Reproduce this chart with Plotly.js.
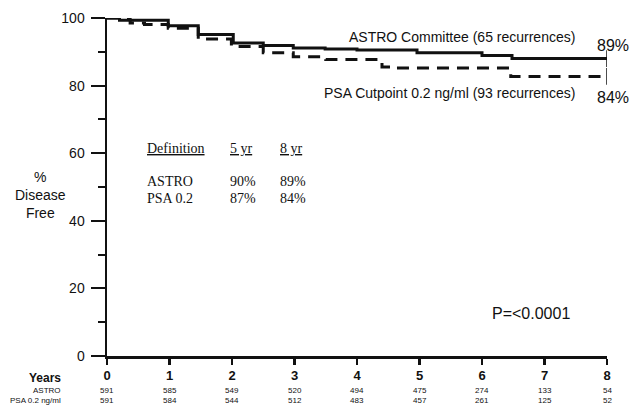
<!DOCTYPE html>
<html>
<head>
<meta charset="utf-8">
<script src="https://cdn.plot.ly/plotly-3.0.1.min.js"></script>
<style>html,body{margin:0;padding:0;background:#fff;}#chart{width:637px;height:406px;}</style>
</head>
<body>
<div id="chart"></div>
<script>
// Kaplan-Meier step data (years, % disease free)
const astroTimes = [0, 0.2, 0.98, 1.46, 2.02, 2.5, 2.98, 3.49, 4.0, 4.96, 6.0, 6.48, 8.0];
const astroSurv  = [100, 99.3, 97.7, 95.1, 92.6, 91.9, 91.1, 90.8, 90.5, 89.7, 88.9, 88.0, 88.0];
const psaTimes = [0, 0.37, 0.6, 0.98, 1.46, 1.99, 2.5, 2.98, 3.5, 4.4, 4.6, 6.46, 8.0];
const psaSurv  = [100, 98.5, 98.1, 97.0, 93.8, 91.6, 89.7, 88.5, 87.7, 85.5, 85.2, 82.7, 82.7];

// Numbers at risk
const yearTicks = [0, 1, 2, 3, 4, 5, 6, 7, 8];
const atRiskAstro = [591, 585, 549, 520, 494, 475, 274, 133, 54];
const atRiskPsa   = [591, 584, 544, 512, 483, 457, 261, 125, 52];

// Y axis ticks
const yMajor = [0, 20, 40, 60, 80, 100];
const yMinor = [10, 30, 50, 70, 90];

// Inset table
const tableHeader = ["Definition", "5 yr", "8 yr"];
const tableRows = ["ASTRO", "PSA 0.2"];
const rate5yr = ["90%", "87%"];
const rate8yr = ["89%", "84%"];

// Curve labels
const curveLabels = ["ASTRO Committee (65 recurrences)", "PSA Cutpoint 0.2 ng/ml (93 recurrences)"];
const endLabels = ["89%", "84%"];
const pValue = "P=<0.0001";

const sans = "Liberation Sans, Arial, sans-serif";
const serif = "Liberation Serif, Times New Roman, serif";
const ink = "#111111";

const traces = [
  {x: astroTimes, y: astroSurv, type: 'scatter', mode: 'lines', line: {shape: 'hv', color: ink, width: 3}, hoverinfo: 'skip'},
  {x: psaTimes, y: psaSurv, type: 'scatter', mode: 'lines', line: {shape: 'hv', color: ink, width: 3, dash: '12px,8px'}, hoverinfo: 'skip'},
  {x: [astroTimes[astroTimes.length-1], psaTimes[psaTimes.length-1]],
   y: [astroSurv[astroSurv.length-1], psaSurv[psaSurv.length-1]],
   type: 'scatter', mode: 'markers',
   marker: {symbol: 'line-ns-open', size: 12, color: ink, line: {color: ink, width: 1.5}}, hoverinfo: 'skip'},
  // invisible trace carrying the minor-tick overlay axis
  {x: [0], y: [0], xaxis: 'x', yaxis: 'y2', type: 'scatter', mode: 'markers', marker: {opacity: 0}, hoverinfo: 'skip'}
];

const ann = [];
yearTicks.forEach((t, i) => {
  ann.push({x: t, y: -0.101, xref: 'x', yref: 'paper', text: String(atRiskAstro[i]), showarrow: false, xanchor: 'center', yanchor: 'middle', font: {family: sans, size: 8, color: ink}});
  ann.push({x: t, y: -0.133, xref: 'x', yref: 'paper', text: String(atRiskPsa[i]), showarrow: false, xanchor: 'center', yanchor: 'middle', font: {family: sans, size: 8, color: ink}});
});
ann.push({x: -0.088, y: -0.065, xref: 'paper', yref: 'paper', text: '<b>Years</b>', showarrow: false, xanchor: 'right', yanchor: 'middle', font: {family: sans, size: 12, color: ink}});
ann.push({x: -0.088, y: -0.101, xref: 'paper', yref: 'paper', text: 'ASTRO', showarrow: false, xanchor: 'right', yanchor: 'middle', font: {family: sans, size: 8, color: ink}});
ann.push({x: -0.088, y: -0.133, xref: 'paper', yref: 'paper', text: 'PSA 0.2 ng/ml', showarrow: false, xanchor: 'right', yanchor: 'middle', font: {family: sans, size: 8, color: ink}});
ann.push({x: -0.134, y: 0.476, xref: 'paper', yref: 'paper', text: '%<br>Disease<br>Free', showarrow: false, xanchor: 'center', yanchor: 'middle', align: 'center', font: {family: sans, size: 14, color: ink}});
ann.push({x: 3.84, y: 94.4, text: curveLabels[0], showarrow: false, xanchor: 'left', yanchor: 'middle', font: {family: sans, size: 14, color: ink}});
ann.push({x: 3.44, y: 77.9, text: curveLabels[1], showarrow: false, xanchor: 'left', yanchor: 'middle', font: {family: sans, size: 14, color: ink}});
ann.push({x: 7.81, y: 92.0, text: endLabels[0], showarrow: false, xanchor: 'left', yanchor: 'middle', font: {family: sans, size: 16, color: ink}});
ann.push({x: 7.81, y: 76.4, text: endLabels[1], showarrow: false, xanchor: 'left', yanchor: 'middle', font: {family: sans, size: 16, color: ink}});
ann.push({x: 6.13, y: 12.7, text: pValue, showarrow: false, xanchor: 'left', yanchor: 'middle', font: {family: sans, size: 16, color: ink}});
const colX = [0.61, 1.94, 2.74];
tableHeader.forEach((h, j) => {
  ann.push({x: colX[j], y: 61.5, text: '<u>' + h + '</u>', showarrow: false, xanchor: 'left', yanchor: 'middle', font: {family: serif, size: 14, color: ink}});
});
tableRows.forEach((r, i) => {
  const yy = [51.5, 46.5][i];
  ann.push({x: colX[0], y: yy, text: r, showarrow: false, xanchor: 'left', yanchor: 'middle', font: {family: serif, size: 14, color: ink}});
  ann.push({x: colX[1], y: yy, text: rate5yr[i], showarrow: false, xanchor: 'left', yanchor: 'middle', font: {family: serif, size: 14, color: ink}});
  ann.push({x: colX[2], y: yy, text: rate8yr[i], showarrow: false, xanchor: 'left', yanchor: 'middle', font: {family: serif, size: 14, color: ink}});
});

const layout = {
  width: 637, height: 406,
  margin: {l: 107, r: 30, t: 18, b: 50, pad: 0},
  paper_bgcolor: '#ffffff', plot_bgcolor: '#ffffff',
  showlegend: false,
  xaxis: {
    range: [0, 8], showgrid: false, zeroline: false,
    showline: true, linecolor: ink, linewidth: 2.5,
    ticks: 'outside', ticklen: 6, tickwidth: 2.5, tickcolor: ink,
    tickmode: 'array', tickvals: yearTicks, ticktext: yearTicks.map(String),
    tickfont: {family: sans, size: 13, color: ink, weight: 'bold'},
    fixedrange: true
  },
  yaxis: {
    range: [0, 100], showgrid: false, zeroline: false,
    showline: true, linecolor: ink, linewidth: 2.5,
    ticks: 'outside', ticklen: 14, tickwidth: 2, tickcolor: ink,
    tickmode: 'array', tickvals: yMajor,
    tickfont: {family: sans, size: 14, color: ink},
    ticklabelstandoff: 3,
    fixedrange: true
  },
  yaxis2: {
    overlaying: 'y', side: 'left', anchor: 'x',
    range: [0, 100], showgrid: false, zeroline: false, showline: false,
    ticks: 'outside', ticklen: 8, tickwidth: 2, tickcolor: ink,
    tickmode: 'array', tickvals: yMinor, showticklabels: false,
    fixedrange: true
  },
  annotations: ann
};

Plotly.newPlot('chart', traces, layout, {staticPlot: true, displayModeBar: false});
</script>
</body>
</html>
